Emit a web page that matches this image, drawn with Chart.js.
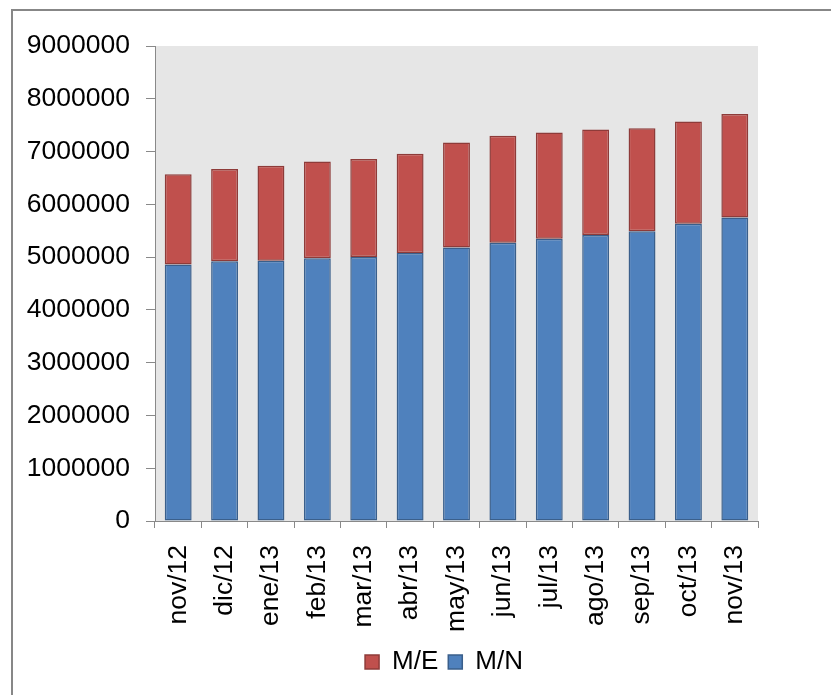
<!DOCTYPE html>
<html>
<head>
<meta charset="utf-8">
<script src="https://cdn.jsdelivr.net/npm/chart.js@4.4.1/dist/chart.umd.min.js"></script>
<style>
  html, body { margin: 0; padding: 0; background: #fff; }
  #wrap { width: 831px; height: 695px; position: relative; }
</style>
</head>
<body>
<div id="wrap"><canvas id="chart"></canvas></div>
<script>
const months = ["nov/12", "dic/12", "ene/13", "feb/13", "mar/13", "abr/13", "may/13",
	"jun/13", "jul/13", "ago/13", "sep/13", "oct/13", "nov/13"];
const mnValues = [4860000, 4920000, 4930000, 4980000, 5000000, 5080000, 5180000,
	5270000, 5350000, 5420000, 5490000, 5630000, 5750000];
const meValues = [1710000, 1750000, 1800000, 1830000, 1860000, 1880000, 1990000,
	2030000, 2010000, 2000000, 1950000, 1940000, 1960000];

const font = "'Liberation Sans', Arial, sans-serif";

// gray plot background + outer frame
const backdrop = {
	id: "backdrop",
	afterLayout(chart) {
		// legend sits a bit right of the canvas centre in the original
		chart.legend.left = 130;
		chart.legend.right = 758;
	},
	beforeDraw(chart) {
		const { ctx, chartArea: a } = chart;
		ctx.save();
		ctx.fillStyle = "#ffffff";
		ctx.fillRect(0, 0, chart.width, chart.height);
		ctx.fillStyle = "#e6e6e6";
		ctx.fillRect(a.left, a.top, a.right - a.left, a.bottom - a.top);
		ctx.strokeStyle = "#878787";
		ctx.lineWidth = 2;
		ctx.strokeRect(12, 10, 1000, 1000);
		ctx.restore();
	},
};

new Chart(document.getElementById("chart"), {
	type: "bar",
	data: {
		labels: months,
		datasets: [
			{
				label: "M/N",
				data: mnValues,
				backgroundColor: "#4f81bd",
				borderColor: "#3a5f8b",
				borderWidth: 1.5,
				borderSkipped: false,
			},
			{
				label: "M/E",
				data: meValues,
				backgroundColor: "#c0504d",
				borderColor: "#8e3b39",
				borderWidth: 1.5,
				borderSkipped: false,
			},
		],
	},
	options: {
		responsive: true,
		maintainAspectRatio: false,
		animation: false,
		datasets: { bar: { barPercentage: 0.58, categoryPercentage: 1 } },
		layout: { padding: { top: 46, right: 73, left: 0, bottom: 10 } },
		plugins: {
			tooltip: { enabled: false },
			legend: {
				position: "bottom",
				reverse: true,
				labels: {
					color: "#000",
					font: { family: font, size: 26 },
					boxWidth: 14,
					boxHeight: 14,
					padding: 10,
				},
			},
		},
		scales: {
			x: {
				stacked: true,
				grid: { drawOnChartArea: false, color: "#898989", tickLength: 7 },
				border: { color: "#898989" },
				ticks: {
					color: "#000",
					font: { family: font, size: 26.5 },
					minRotation: 90,
					maxRotation: 90,
					padding: 17,
				},
				afterFit(scale) { scale.height = 118; },
			},
			y: {
				stacked: true,
				min: 0,
				max: 9000000,
				grid: { drawOnChartArea: false, color: "#898989", tickLength: 9 },
				border: { color: "#898989" },
				ticks: {
					stepSize: 1000000,
					color: "#000",
					font: { family: font, size: 26.5 },
					padding: 16,
					callback: (v) => String(v),
				},
				afterFit(scale) { scale.width = 155; },
			},
		},
	},
	plugins: [backdrop],
});
</script>
</body>
</html>
